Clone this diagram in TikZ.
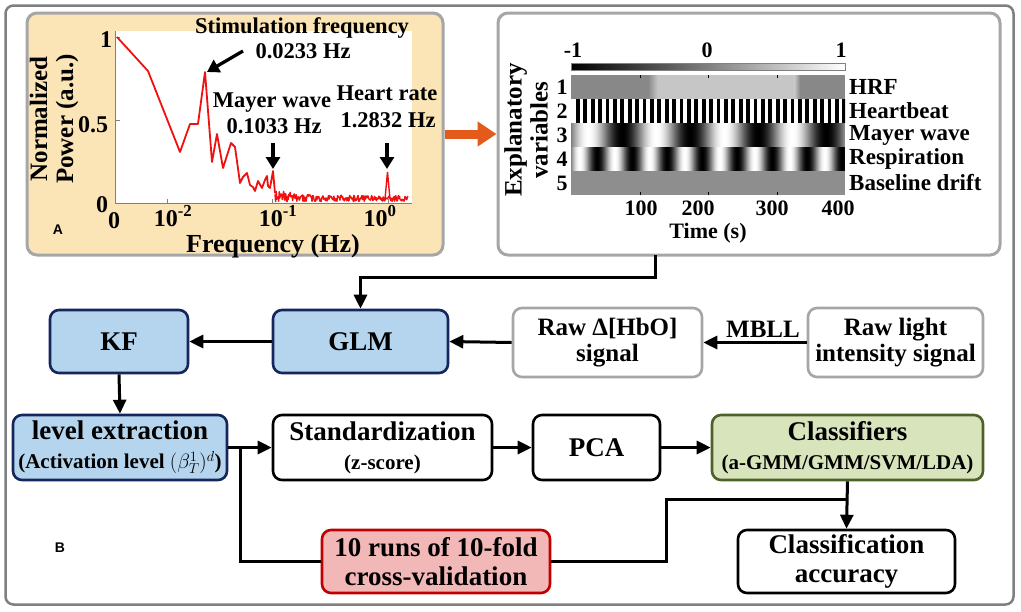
\documentclass[tikz,border=0pt]{standalone}
\usepackage{fontspec}
\setmainfont{Liberation Serif}
\newfontfamily\sansfnt{Liberation Sans}
\usetikzlibrary{arrows.meta}
\definecolor{outergray}{HTML}{7F7F7F}
\definecolor{panelgray}{HTML}{A6A6A6}
\definecolor{panelAfill}{HTML}{FBE5B6}
\definecolor{bluefill}{HTML}{B5D5EE}
\definecolor{bluedraw}{HTML}{16255B}
\definecolor{greenfill}{HTML}{D8E4BC}
\definecolor{greendraw}{HTML}{4E6128}
\definecolor{redfill}{HTML}{F2B7B7}
\definecolor{reddraw}{HTML}{C00000}
\definecolor{orangeA}{HTML}{E35A1B}
\definecolor{plotred}{HTML}{F01010}
\definecolor{hrfdark}{HTML}{888888}
\definecolor{hrflight}{HTML}{C6C6C6}
\definecolor{rowfive}{HTML}{8E8E8E}
\newcommand\bxf{\fontsize{27}{29}\selectfont\bfseries}
\newcommand\subf{\fontsize{21}{22}\selectfont\bfseries}
\newcommand\mbf{\fontsize{25}{27}\selectfont\bfseries}
\newcommand\annf{\fontsize{22.5}{24}\selectfont\bfseries}
\newcommand\axf{\fontsize{25}{26}\selectfont\bfseries}
\newcommand\tkf{\fontsize{24}{25}\selectfont\bfseries}
\newcommand\xlf{\fontsize{26}{27}\selectfont\bfseries}
\newcommand\rlf{\fontsize{23}{24}\selectfont\bfseries}
\newcommand\tcf{\fontsize{22}{23}\selectfont\bfseries}
\begin{document}
\begin{tikzpicture}[x=1pt,y=-1pt,
  arr/.style={-{Triangle[length=14pt,width=13pt]}, line width=3pt},
  ln/.style={line width=3pt},
  boxbase/.style={rounded corners=9pt, line width=2.6pt, inner sep=0pt, align=center, font=\bxf},
  bluebox/.style={boxbase, draw=bluedraw, fill=bluefill},
  graybox/.style={boxbase, draw=panelgray, fill=white},
  whitebox/.style={boxbase, draw=black, fill=white},
  greenbox/.style={boxbase, draw=greendraw, fill=greenfill},
  redbox/.style={boxbase, draw=reddraw, fill=redfill},
  panel/.style={rounded corners=10pt, line width=3pt, draw=panelgray, inner sep=0pt},
  ann/.style={font=\annf, inner sep=0pt},
  axl/.style={font=\axf, inner sep=0pt},
  tk/.style={font=\tkf, inner sep=0pt, anchor=base},
  rl/.style={font=\rlf, inner sep=0pt},
  tc/.style={font=\tcf, inner sep=0pt},
  blackarr/.style={-{Triangle[length=12pt,width=14pt]}, line width=3.3pt},
  letter/.style={font=\sansfnt\bfseries\fontsize{14}{15}\selectfont, inner sep=0pt}
]
\useasboundingbox (0,0) rectangle (1021,611);
\fill[white] (0,0) rectangle (1021,611);

% outer frame
\node[draw=outergray, line width=2.5pt, rounded corners=8pt, minimum width=1008pt, minimum height=599pt, inner sep=0pt] (frame) at (509.5,305) {};

% panels
\node[panel, fill=panelAfill, minimum width=416pt, minimum height=242pt] (pA) at (235,134) {};
\node[panel, fill=white, minimum width=502pt, minimum height=242pt] (pR) at (749,134) {};
\draw[-{Triangle[length=19pt,width=24pt]}, line width=9pt, orangeA] (pA.east) -- (pR.west);

% ---------- panel A plot ----------
\fill[white] (115,31) rectangle (412,203);
\draw[gray, line width=0.7pt] (115.5,31) -- (115.5,203) -- (412,203);
\foreach \t in {167,272,388} \draw[gray, line width=0.7pt] (\t,203) -- (\t,199);
\foreach \t in {37,120} \draw[gray, line width=0.7pt] (115.5,\t) -- (119.5,\t);
\draw[plotred, line width=1.8pt, line join=round] (117,37) -- (148,71) -- (180,152) -- (190,124) -- (198,124) -- (205,72) -- (212,162) -- (217,134) -- (223,168) -- (231,143) -- (235,147) -- (240,183) -- (243,177) -- (247,173) -- (250,185) -- (253,187) -- (255,191) -- (258,181) -- (262,188) -- (265,180) -- (267,176) -- (268,186) -- (270,188) -- (273,171) -- (275,193);
\pgfmathsetseed{4242}
\draw[plotred, line width=1.4pt, line join=round] plot[domain=275:408, samples=220] (\x, {201.5 - (6+7*exp(-(\x-275)/20))*rnd});
\draw[plotred, line width=1.4pt] (385,199) -- (387.5,172) -- (390,199);

\node[ann, anchor=base] (stim) at (302,33) {Stimulation frequency};
\node[ann, anchor=base] (stimf) at (303,58) {0.0233 Hz};
\coordinate (stimtail) at (243,51);
\coordinate (stimtip) at (207,72);
\draw[blackarr] (stimtail) -- (stimtip);
\node[ann, anchor=base] (mayer) at (272,107) {Mayer wave};
\node[ann, anchor=base] (mayerf) at (274,133) {0.1033 Hz};
\node[ann, anchor=base] (heart) at (387,100) {Heart rate};
\node[ann, anchor=base] (heartf) at (388,127) {1.2832 Hz};
\coordinate (ma1) at (273,143); \coordinate (ma2) at (273,169);
\coordinate (ha1) at (387,143); \coordinate (ha2) at (387,169);
\draw[blackarr] (ma1) -- (ma2);
\draw[blackarr] (ha1) -- (ha2);

\node[axl, rotate=90, align=center] (ylab) at (54,119) {Normalized\\Power (a.u.)};
\node[tk] (y1) at (106,47) {1};
\node[tk] (y05) at (93,132) {0.5};
\node[tk] (y0) at (102,212) {0};
\node[tk] (x0) at (114,228) {0};
\node[tk] (x2) at (173,226) {10\textsuperscript{-2}};
\node[tk] (x1) at (278,226) {10\textsuperscript{-1}};
\node[tk] (x00) at (380,226) {10\textsuperscript{0}};
\node[font=\xlf, inner sep=0pt, anchor=base] (xlab) at (273,252) {Frequency (Hz)};
\node[letter] (lA) at (58,230) {A};

% ---------- right panel ----------
\shade[left color=black, right color=white] (571,63) rectangle (845,70);
\draw[gray, line width=0.5pt] (571,63) rectangle (845,70);
\node[tc] (cbm) at (573,50) {-1};
\node[tc] (cb0) at (707,50) {0};
\node[tc] (cb1) at (841,50) {1};
\begin{scope}
\clip (571,75) rectangle (845,195);
\fill[hrfdark] (571,75) rectangle (845,98.5);
\fill[hrflight] (657,75) rectangle (795,98.5);
\shade[left color=hrfdark, right color=hrflight] (648,75) rectangle (657.5,98.5);
\shade[left color=hrflight, right color=hrfdark] (794.5,75) rectangle (800,98.5);
\fill[white] (571,98.5) rectangle (845,122.5);
\foreach \k in {0,...,36} \fill[black] ({576+\k*7.4},98.5) rectangle ++(3.8,24);
\foreach \i in {0,...,273} {
  \pgfmathsetmacro\bk{max(0,min(100,50-50*cos(((\i-17)/68)*360)))}
  \fill[black!\bk!white] ({571+\i},122.5) rectangle ++(1.3,24.5);
  \pgfmathsetmacro\bj{max(0,min(100,50-50*cos(((\i-8.5)/35)*360)))}
  \fill[black!\bj!white] ({571+\i},147) rectangle ++(1.3,24);
}
\fill[rowfive] (571,171) rectangle (845,195);
\end{scope}
\foreach \t in {640,708,777} {\draw[black, line width=0.6pt] (\t,75) -- (\t,78); \draw[black, line width=0.6pt] (\t,195) -- (\t,192);}
\node[tc] (r1) at (562,87) {1};
\node[tc] (r2) at (562,111) {2};
\node[tc] (r3) at (562,135) {3};
\node[tc] (r4) at (562,159) {4};
\node[tc] (r5) at (562,183) {5};
\node[rl, anchor=west] (lHRF) at (849,87) {HRF};
\node[rl, anchor=west] (lHB) at (849,111) {Heartbeat};
\node[rl, anchor=west] (lMW) at (849,135) {Mayer wave};
\node[rl, anchor=west] (lRS) at (849,159) {Respiration};
\node[rl, anchor=west] (lBD) at (849,183) {Baseline drift};
\node[axl, rotate=90, align=center] (evlab) at (526,130) {Explanatory\\variables};
\node[tc] (t100) at (641,208) {100};
\node[tc] (t200) at (698,208) {200};
\node[tc] (t300) at (772,208) {300};
\node[tc] (t400) at (838,208) {400};
\node[tc] (tlab) at (708,233) {Time (s)};

% ---------- flow boxes ----------
\node[bluebox, minimum width=138pt, minimum height=63pt] (KF) at (119,341.5) {KF};
\node[bluebox, minimum width=175pt, minimum height=63pt] (GLM) at (360.5,341.5) {GLM};
\node[graybox, minimum width=189pt, minimum height=69pt, font=\fontsize{25}{26}\selectfont\bfseries] (rawH) at (607.5,342.5) {Raw Δ[HbO]\\signal};
\node[graybox, minimum width=175pt, minimum height=69pt, font=\fontsize{25}{26}\selectfont\bfseries] (rawL) at (895.5,342.5) {Raw light\\intensity signal};
\node[bluebox, minimum width=214pt, minimum height=65pt] (lev) at (120,447.5) {level extraction\\{\subf (Activation level $(\beta_T^1)^d$)}};
\node[whitebox, minimum width=219pt, minimum height=65pt] (std) at (382.5,447.5) {Standardization\\{\subf (z-score)}};
\node[whitebox, minimum width=127pt, minimum height=65pt] (pca) at (596.5,447.5) {PCA};
\node[greenbox, minimum width=271pt, minimum height=65pt] (cls) at (847.5,447.5) {Classifiers\\{\subf (a-GMM/GMM/SVM/LDA)}};
\node[redbox, minimum width=228pt, minimum height=63pt] (runs) at (436,561.5) {10 runs of 10-fold\\cross-validation};
\node[whitebox, minimum width=217pt, minimum height=63pt] (acc) at (846.5,561.5) {Classification\\accuracy};
\node[letter] (lB) at (60,548) {B};

% connectors
\coordinate (j1) at (655,255);
\draw[arr] (j1) -- ++(0,22) -| (GLM.north);
\draw[arr] (GLM.west) -- (KF.east);
\draw[arr] (rawH.west) -- (GLM.east);
\draw[arr] (rawL.west) -- (rawH.east);
\node[font=\mbf, inner sep=0pt, anchor=base] (mbll) at (763,337) {MBLL};
\draw[arr] (KF.south) -- (lev.north);
\draw[arr] (lev.east) -- (std.west);
\draw[arr] (std.east) -- (pca.west);
\draw[arr] (pca.east) -- (cls.west);
\draw[arr] (cls.south) -- (acc.north);
\coordinate (j2) at (240,447.5);
\draw[ln] (j2) |- (runs.west);
\coordinate (j3) at (847.5,499);
\draw[ln] (runs.east) -- ++(115,0) |- (j3);
\end{tikzpicture}
\end{document}
